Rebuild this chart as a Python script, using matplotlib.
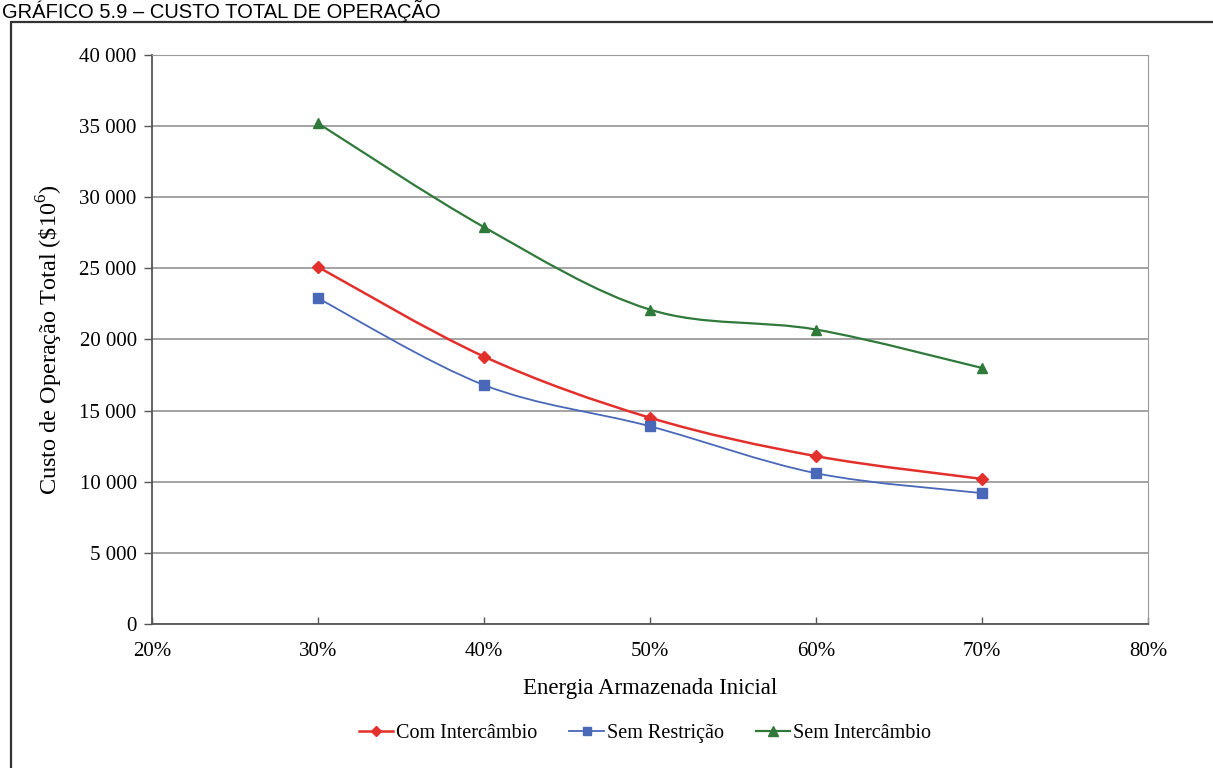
import numpy as np
import matplotlib
matplotlib.use("Agg")
import matplotlib.pyplot as plt
from matplotlib.path import Path
from matplotlib.patches import PathPatch, Rectangle
from matplotlib.lines import Line2D
from matplotlib.ticker import FuncFormatter

# data
energia = [0.30, 0.40, 0.50, 0.60, 0.70]
com_intercambio = [25100, 18800, 14500, 11800, 10200]
sem_restricao = [22900, 16800, 13900, 10600, 9200]
sem_intercambio = [35200, 27900, 22100, 20700, 18000]
series_names = ['Com Intercâmbio', 'Sem Restrição', 'Sem Intercâmbio']
x_ticks = [0.2, 0.3, 0.4, 0.5, 0.6, 0.7, 0.8]
y_ticks = [0, 5000, 10000, 15000, 20000, 25000, 30000, 35000, 40000]

plt.rcParams['font.family'] = ['Liberation Serif', 'DejaVu Serif']
plt.rcParams['mathtext.fontset'] = 'custom'
plt.rcParams['mathtext.rm'] = 'Liberation Serif'

colors = ['#e2302c', '#4a68b8', '#2f7a3a']
markers = ['D', 's', '^']
msizes = [6, 6.5, 7.5]
widths = [1.8, 1.3, 1.6]


def smooth_path(xs, ys):
    # excel-like smoothed line (cardinal bezier through the points)
    n = len(xs)
    verts = [(xs[0], ys[0])]
    codes = [Path.MOVETO]
    for i in range(n - 1):
        a = i - 1 if i > 0 else i
        b = i + 2 if i + 2 < n else i + 1
        c1 = (xs[i] + (xs[i+1] - xs[a]) / 6, ys[i] + (ys[i+1] - ys[a]) / 6)
        c2 = (xs[i+1] - (xs[b] - xs[i]) / 6, ys[i+1] - (ys[b] - ys[i]) / 6)
        verts += [c1, c2, (xs[i+1], ys[i+1])]
        codes += [Path.CURVE4] * 3
    return Path(verts, codes)


fig = plt.figure(figsize=(12.13, 7.68), dpi=100)
ax = fig.add_axes([152/1213, 1 - 624/768, 996/1213, 569/768])

handles = []
for vals, c, m, ms, lw, name in zip([com_intercambio, sem_restricao, sem_intercambio],
                                    colors, markers, msizes, widths, series_names):
    ax.add_patch(PathPatch(smooth_path(energia, vals), fill=False,
                           edgecolor=c, lw=lw, zorder=3))
    ax.plot(energia, vals, linestyle='none', marker=m, ms=ms, color=c, zorder=4)
    handles.append(Line2D([], [], color=c, lw=lw, marker=m, ms=ms-1, label=name))

ax.set_xlim(0.2, 0.8)
ax.set_ylim(0, 40000)
ax.set_xticks(x_ticks)
ax.set_yticks(y_ticks)
ax.xaxis.set_major_formatter(FuncFormatter(lambda v, p: f"{v*100:.0f}%"))
ax.yaxis.set_major_formatter(FuncFormatter(lambda v, p: f"{v:,.0f}".replace(",", " ")))
ax.yaxis.grid(True, color='#8a8a8a', lw=1.1)
ax.set_axisbelow(True)
for s in ['top', 'right']:
    ax.spines[s].set_color('#9a9a9a')
for s in ['left', 'bottom']:
    ax.spines[s].set_color('#555555')
    ax.spines[s].set_linewidth(1.3)
ax.tick_params(axis='y', direction='out', length=6, width=1, colors='#555555',
               labelcolor='black', labelsize=15, pad=5)
ax.tick_params(axis='x', direction='in', length=5, width=1, colors='#555555',
               labelcolor='black', labelsize=15, pad=13)

ax.set_xlabel('Energia Armazenada Inicial', fontsize=16.5, labelpad=12)
ax.set_ylabel(r'Custo de Operação Total (\$10$^{6}$)', fontsize=17.5, labelpad=10)

fig.legend(handles=handles, loc='center', bbox_to_anchor=(645/1213, 1 - 733/768),
           ncol=3, frameon=False, fontsize=14.5, handlelength=1.7,
           handletextpad=0.15, columnspacing=1.6)

# scanned page frame and caption
fig.add_artist(Rectangle((11/1213, -0.2), 1.5, 0.2 + (768 - 22)/768,
                         transform=fig.transFigure, fill=False,
                         ec='#333333', lw=1.6))
fig.text(2/1213, 1 - 18.5/768, 'GRÁFICO 5.9 – CUSTO TOTAL DE OPERAÇÃO',
         family=['Liberation Sans', 'DejaVu Sans'], fontsize=14.5, va='baseline',
         ha='left')

fig.savefig('out.png', dpi=100)
